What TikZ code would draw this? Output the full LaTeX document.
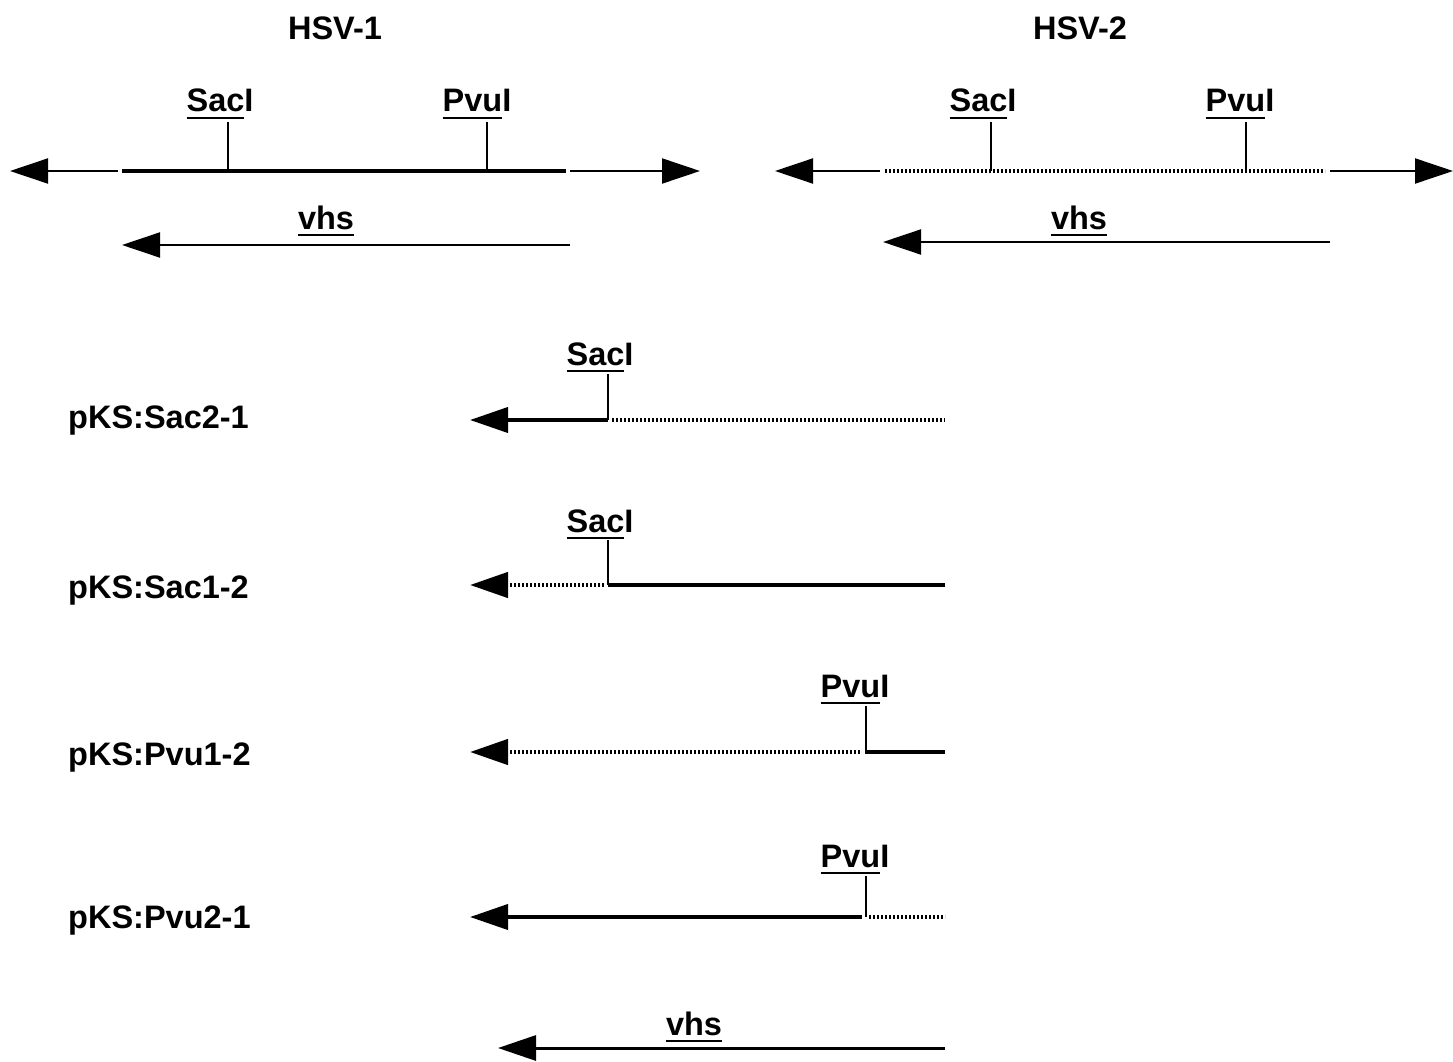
\documentclass[tikz,border=0pt]{standalone}
\usepackage{fontspec}
\setmainfont{Liberation Sans}
\usetikzlibrary{arrows.meta}
% underline the first part of a label with a heavy bar
\newcommand\ulpart[2]{\setbox0\hbox{#1}\rlap{\rule[-7pt]{\wd0}{2.2pt}}\box0#2}
\begin{document}
\begin{tikzpicture}[x=1pt,y=-1pt,
  lbl/.style={anchor=base,inner sep=0pt,font=\fontsize{32.5}{38}\selectfont\bfseries},
  thin/.style={line width=2pt},
  solid1/.style={line width=4pt},
  dot2/.style={line width=4.5pt,dash pattern=on 2pt off 2pt},
  tick/.style={line width=2pt},
  tip/.style={-{Triangle[length=38pt,width=25pt]}}]
\useasboundingbox (0,0) rectangle (1453,1062);

% ---------- HSV-1 ----------
\node[lbl] (h1) at (335,40) {HSV-1};
\node[lbl] (h1s) at (220,112) {\ulpart{Sac}{I}};
\node[lbl] (h1p) at (477,112) {\ulpart{Pvu}{I}};
\coordinate (h1a) at (10,171);
\coordinate (h1b) at (118,171);
\coordinate (h1c) at (122,171);
\coordinate (h1d) at (566,171);
\coordinate (h1e) at (570,171);
\coordinate (h1f) at (700,171);
\draw[thin,tip] (h1b) -- (h1a);
\draw[solid1] (h1c) -- (h1d);
\draw[thin,tip] (h1e) -- (h1f);
\draw[tick] (228,122) -- (228,171);
\draw[tick] (487,122) -- (487,171);
\node[lbl] (h1v) at (326,229) {\ulpart{vhs}{}};
\coordinate (h1v1) at (570,245);
\coordinate (h1v2) at (122,245);
\draw[thin,tip] (h1v1) -- (h1v2);

% ---------- HSV-2 ----------
\node[lbl] (h2) at (1080,40) {HSV-2};
\node[lbl] (h2s) at (983,112) {\ulpart{Sac}{I}};
\node[lbl] (h2p) at (1240,112) {\ulpart{Pvu}{I}};
\coordinate (h2a) at (775,171);
\coordinate (h2b) at (880,171);
\coordinate (h2c) at (885,171);
\coordinate (h2d) at (1325,171);
\coordinate (h2e) at (1330,171);
\coordinate (h2f) at (1453,171);
\draw[thin,tip] (h2b) -- (h2a);
\draw[dot2] (h2c) -- (h2d);
\draw[thin,tip] (h2e) -- (h2f);
\draw[tick] (991,122) -- (991,171);
\draw[tick] (1246,122) -- (1246,171);
\node[lbl] (h2v) at (1079,229) {\ulpart{vhs}{}};
\coordinate (h2v1) at (1330,242);
\coordinate (h2v2) at (883,242);
\draw[thin,tip] (h2v1) -- (h2v2);

% ---------- pKS:Sac2-1 ----------
\node[lbl,anchor=base west] (c1) at (68,428) {pKS:Sac2-1};
\node[lbl] (c1s) at (600,365) {\ulpart{Sac}{I}};
\coordinate (c1a) at (470,420);
\coordinate (c1k) at (608,420);
\coordinate (c1e) at (945,420);
\draw[solid1,tip] (c1k) -- (c1a);
\draw[dot2] ([xshift=4pt]c1k) -- (c1e);
\draw[tick] (608,374) -- (c1k);

% ---------- pKS:Sac1-2 ----------
\node[lbl,anchor=base west] (c2) at (68,598) {pKS:Sac1-2};
\node[lbl] (c2s) at (600,532) {\ulpart{Sac}{I}};
\coordinate (c2a) at (470,585);
\coordinate (c2k) at (608,585);
\coordinate (c2e) at (945,585);
\draw[dot2,tip] ([xshift=-4pt]c2k) -- (c2a);
\draw[solid1] (c2k) -- (c2e);
\draw[tick] (608,540) -- (c2k);

% ---------- pKS:Pvu1-2 ----------
\node[lbl,anchor=base west] (c3) at (68,765) {pKS:Pvu1-2};
\node[lbl] (c3p) at (855,697) {\ulpart{Pvu}{I}};
\coordinate (c3a) at (470,752);
\coordinate (c3k) at (866,752);
\coordinate (c3e) at (945,752);
\draw[dot2,tip] ([xshift=-6pt]c3k) -- (c3a);
\draw[solid1] ([xshift=-1pt]c3k) -- (c3e);
\draw[tick] (866,706) -- (c3k);

% ---------- pKS:Pvu2-1 ----------
\node[lbl,anchor=base west] (c4) at (68,928) {pKS:Pvu2-1};
\node[lbl] (c4p) at (855,867) {\ulpart{Pvu}{I}};
\coordinate (c4a) at (470,917);
\coordinate (c4k) at (866,917);
\coordinate (c4e) at (945,917);
\draw[solid1,tip] ([xshift=-4pt]c4k) -- (c4a);
\draw[dot2] ([xshift=3pt]c4k) -- (c4e);
\draw[tick] (866,876) -- (c4k);

% ---------- vhs ----------
\node[lbl] (bv) at (694,1035) {\ulpart{vhs}{}};
\coordinate (bv1) at (945,1048);
\coordinate (bv2) at (498,1048);
\draw[line width=3pt,tip] (bv1) -- (bv2);
\end{tikzpicture}
\end{document}
